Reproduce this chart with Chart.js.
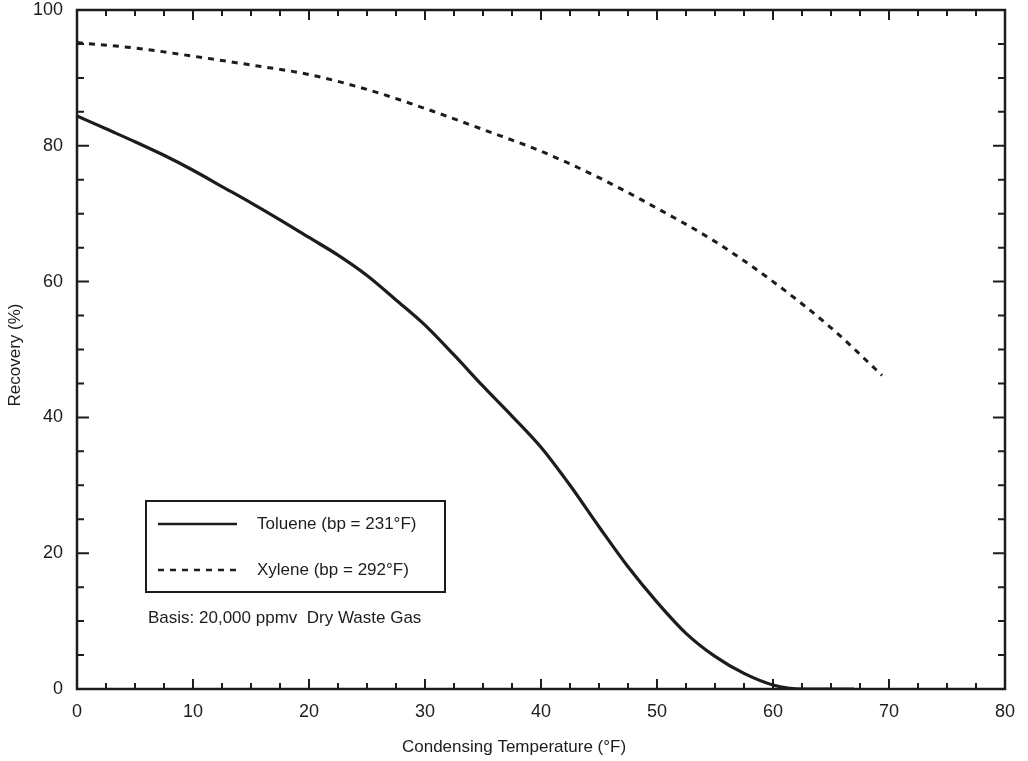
<!DOCTYPE html>
<html>
<head>
<meta charset="utf-8">
<script src="https://cdn.jsdelivr.net/npm/chart.js@4"></script>
<style>
  html, body { margin: 0; padding: 0; background: #ffffff; }
  #wrap { width: 1028px; height: 761px; }
</style>
</head>
<body>
<div id="wrap"><canvas id="c" width="1028" height="761"></canvas></div>
<script>
// Condensing temperature (°F) and recovery (%) for each solvent
const tolueneTemps = [0, 2.5, 5, 7.5, 10, 12.5, 15, 17.5, 20, 22.5, 25, 27.5, 30, 32.5, 35, 37.5, 40, 42.5, 45, 47.5, 50, 52.5, 55, 57.5, 60, 62.5, 65, 67];
const tolueneRecovery = [84.4, 82.5, 80.6, 78.6, 76.4, 74.0, 71.6, 69.1, 66.5, 63.9, 60.9, 57.3, 53.6, 49.2, 44.6, 40.2, 35.6, 30.0, 23.9, 18.0, 12.8, 8.2, 4.8, 2.3, 0.6, 0.0, 0.0, 0.0];

const xyleneTemps = [0, 5, 10, 15, 20, 25, 30, 35, 40, 45, 50, 55, 60, 65, 69.4];
const xyleneRecovery = [95.2, 94.4, 93.2, 91.9, 90.5, 88.3, 85.5, 82.4, 79.2, 75.3, 70.8, 65.9, 60.0, 53.2, 46.2];

const seriesLabels = ['Toluene (bp = 231°F)', 'Xylene (bp = 292°F)'];
const basisNote = 'Basis: 20,000 ppmv  Dry Waste Gas';

const xTickLabels = [0, 10, 20, 30, 40, 50, 60, 70, 80];
const yTickLabels = [0, 20, 40, 60, 80, 100];
const xMinorStep = 2.5;
const yMinorStep = 5;

const xTitle = 'Condensing Temperature (°F)';
const yTitle = 'Recovery (%)';

const INK = '#1c1c1c';
const FONT = '"Liberation Sans", Arial, Helvetica, sans-serif';

function pairs(xs, ys) {
  return xs.map((x, i) => ({ x: x, y: ys[i] }));
}

// Frame, inward tick marks, axis titles, boxed legend and basis note
const decorations = {
  id: 'decorations',
  afterDraw(chart) {
    const ctx = chart.ctx;
    const area = chart.chartArea;
    const xs = chart.scales.x;
    const ys = chart.scales.y;
    ctx.save();

    // plot frame
    ctx.strokeStyle = INK;
    ctx.lineWidth = 2.5;
    ctx.strokeRect(area.left, area.top, area.right - area.left, area.bottom - area.top);

    // tick marks pointing into the plot on all four sides
    ctx.lineWidth = 2;
    ctx.beginPath();
    for (let v = xs.min; v <= xs.max + 1e-9; v += xMinorStep) {
      if (v <= xs.min || v >= xs.max) continue;
      const px = xs.getPixelForValue(v);
      const len = xTickLabels.includes(v) ? 10 : 6;
      ctx.moveTo(px, area.bottom); ctx.lineTo(px, area.bottom - len);
      ctx.moveTo(px, area.top); ctx.lineTo(px, area.top + len);
    }
    for (let v = ys.min; v <= ys.max + 1e-9; v += yMinorStep) {
      if (v <= ys.min || v >= ys.max) continue;
      const py = ys.getPixelForValue(v);
      const len = yTickLabels.includes(v) ? 12 : 7;
      ctx.moveTo(area.left, py); ctx.lineTo(area.left + len, py);
      ctx.moveTo(area.right, py); ctx.lineTo(area.right - len, py);
    }
    ctx.stroke();

    // axis titles
    ctx.fillStyle = INK;
    ctx.font = '17px ' + FONT;
    ctx.textAlign = 'center';
    ctx.textBaseline = 'middle';
    ctx.fillText(xTitle, 514, 747);
    ctx.save();
    ctx.translate(15, 355);
    ctx.rotate(-Math.PI / 2);
    ctx.fillText(yTitle, 0, 0);
    ctx.restore();

    // legend box
    const box = { left: 146, top: 501, right: 445, bottom: 592 };
    ctx.lineWidth = 2;
    ctx.strokeRect(box.left, box.top, box.right - box.left, box.bottom - box.top);
    const rows = [524, 570];
    chart.data.datasets.forEach((ds, i) => {
      ctx.save();
      ctx.strokeStyle = ds.borderColor;
      ctx.lineWidth = ds.borderWidth - 0.5;
      ctx.setLineDash(ds.borderDash || []);
      ctx.beginPath();
      ctx.moveTo(158, rows[i]);
      ctx.lineTo(237, rows[i]);
      ctx.stroke();
      ctx.restore();
      ctx.textAlign = 'left';
      ctx.fillText(ds.label, 257, rows[i]);
    });

    // basis note
    ctx.textAlign = 'left';
    ctx.fillText(basisNote, 148, 618);

    ctx.restore();
  }
};

new Chart(document.getElementById('c'), {
  type: 'line',
  data: {
    datasets: [
      {
        label: seriesLabels[0],
        data: pairs(tolueneTemps, tolueneRecovery),
        borderColor: INK,
        borderWidth: 3.2,
        pointRadius: 0,
        cubicInterpolationMode: 'monotone',
        fill: false
      },
      {
        label: seriesLabels[1],
        data: pairs(xyleneTemps, xyleneRecovery),
        borderColor: INK,
        borderWidth: 3,
        borderDash: [6, 6],
        pointRadius: 0,
        cubicInterpolationMode: 'monotone',
        fill: false
      }
    ]
  },
  options: {
    responsive: false,
    animation: false,
    layout: { padding: { top: 10, right: 23, left: 0, bottom: 0 } },
    plugins: {
      legend: { display: false },
      tooltip: { enabled: false },
      title: { display: false }
    },
    scales: {
      x: {
        type: 'linear',
        min: 0,
        max: 80,
        afterBuildTicks: (s) => { s.ticks = xTickLabels.map(v => ({ value: v })); },
        afterFit: (s) => { s.height = 72; s.paddingLeft = 0; s.paddingRight = 0; },
        grid: { display: false, drawTicks: false },
        border: { display: false },
        ticks: { padding: 12, color: INK, font: { size: 18, family: FONT }, maxRotation: 0 }
      },
      y: {
        type: 'linear',
        min: 0,
        max: 100,
        afterBuildTicks: (s) => { s.ticks = yTickLabels.map(v => ({ value: v })); },
        afterFit: (s) => { s.width = 77; s.paddingTop = 0; s.paddingBottom = 0; },
        grid: { display: false, drawTicks: false },
        border: { display: false },
        ticks: { padding: 14, color: INK, font: { size: 18, family: FONT } }
      }
    }
  },
  plugins: [decorations]
});
</script>
</body>
</html>
